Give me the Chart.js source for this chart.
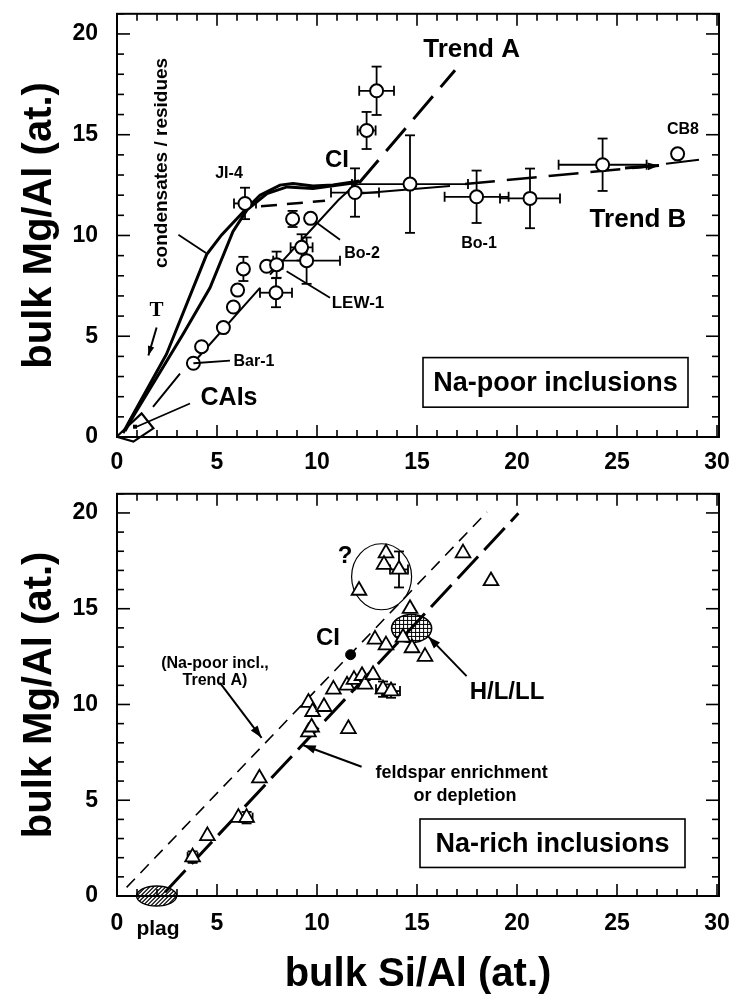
<!DOCTYPE html>
<html>
<head>
<meta charset="utf-8">
<script src="https://cdn.jsdelivr.net/npm/chart.js@4.4.0/dist/chart.umd.min.js"></script>
<style>
body { margin: 0; background: #fff; }
canvas { position: absolute; left: 0; }
#topChart { top: 0; }
#botChart { top: 480px; }
</style>
</head>
<body>
<canvas id="topChart" width="735" height="480"></canvas>
<canvas id="botChart" width="735" height="525"></canvas>
<script>
var FONT = "'Liberation Sans', Arial, Helvetica, sans-serif";

// ---------- top panel: Na-poor inclusions ----------
var poorX    = [3.82, 4.23, 5.32, 5.82, 6.03, 6.32, 6.4, 7.48, 7.98, 7.95, 8.78, 9.68, 9.23, 9.48, 11.9, 12.48, 12.98, 14.65, 17.98, 20.65, 24.28, 28.03];
var poorY    = [3.66, 4.48, 5.43, 6.45, 7.29, 8.34, 11.59, 8.47, 8.55, 7.16, 10.82, 10.85, 9.41, 8.75, 12.13, 15.21, 17.18, 12.55, 11.92, 11.84, 13.51, 14.05];
var poorXErr = [0, 0, 0, 0, 0, 0, 0.55, 0, 0.3, 0.8, 0, 0, 0.55, 1.67, 1.2, 0.45, 0.87, 2.9, 1.6, 1.5, 2.2, 0];
var poorYErr = [0, 0, 0, 0, 0, 0.6, 0.78, 0, 0.65, 0.72, 0.4, 0, 0.65, 1.15, 1.2, 0.92, 1.2, 2.42, 1.3, 1.48, 1.3, 0];

// condensates / residues curves
var condOuterX = [0.3, 0.65, 2.48, 4.48, 5.23, 6.32, 7.15, 8.15, 8.8, 9.8, 10.8, 11.8, 12.1];
var condOuterY = [0.2, 0.84, 4.12, 9.05, 10.03, 11.18, 12.0, 12.5, 12.58, 12.45, 12.5, 12.66, 12.7];
var condInnerX = [0.4, 0.8, 3.3, 4.65, 5.8, 6.5, 7.5, 8.5, 9.8, 11.8, 12.1];
var condInnerY = [0.3, 1.0, 5.1, 7.4, 10.2, 11.27, 12.08, 12.41, 12.33, 12.6, 12.7];

// thin line through the Na-poor points (null = gap)
var poorLineX = [1.8, 3.15, null, 3.8, 7.15, null, 7.65, 11.07, 12.0];
var poorLineY = [1.5, 3.14, null, 3.66, 7.4, null, 8.06, 11.76, 12.6];
var ji4LineX = [7.2, 10.4];
var ji4LineY = [11.45, 11.72];
var trendAX = [12.1, 16.9];
var trendAY = [12.6, 18.2];
var trendBSolidX = [12.15, 16.65];
var trendBSolidY = [12.08, 12.46];
var trendBX = [17.4, 27.1];
var trendBY = [12.55, 13.47];
var cb8LineX = [27.45, 29.1];
var cb8LineY = [13.56, 13.76];
var caiX = [-0.02, 1.23, 1.82, 0.82, -0.02];
var caiY = [0.01, 1.17, 0.43, -0.23, 0.01];

var topLabels = ['Trend A', 'Trend B', 'CB8', 'Bo-1', 'Bo-2', 'LEW-1', 'JI-4', 'CI', 'Bar-1', 'CAIs'];
var topLabelX = [17.73, 26.05, 28.3, 18.1, 12.25, 12.05, 5.6, 11.0, 6.85, 5.6];
var topLabelY = [19.19, 10.79, 15.27, 9.6, 9.11, 6.65, 13.05, 13.74, 3.74, 1.92];
var topLabelSize = [26, 26, 16, 16, 16, 17, 16, 24, 16, 25];

// ---------- bottom panel: Na-rich inclusions ----------
var richX    = [3.78, 4.52, 6.07, 6.48, 7.12, 9.57, 9.73, 9.57, 9.78, 10.35, 11.57, 10.82, 11.5, 11.85, 12.25, 12.4, 12.8, 13.3, 13.7, 12.9, 13.45, 14.3, 14.75, 15.4, 14.65, 17.3, 18.7, 12.1, 13.45, 13.35, 14.1];
var richY    = [2.03, 3.14, 4.09, 4.09, 6.15, 8.56, 8.81, 10.1, 9.62, 9.88, 8.73, 10.79, 11.0, 11.3, 11.5, 11.05, 11.55, 10.8, 10.7, 13.4, 13.1, 13.5, 12.95, 12.5, 15.0, 17.9, 16.45, 15.95, 17.9, 17.3, 17.05];
var richXErr = [0.25, 0, 0, 0.3, 0, 0, 0, 0, 0, 0, 0, 0, 0, 0, 0, 0, 0, 0.35, 0.45, 0, 0, 0, 0, 0, 0, 0, 0, 0, 0, 0, 0.45];
var richYErr = [0.3, 0, 0, 0.3, 0, 0, 0, 0, 0, 0, 0, 0, 0, 0, 0, 0, 0, 0.4, 0.35, 0, 0, 0, 0, 0, 0, 0, 0, 0, 0, 0, 0.94];
var ciX = [11.68];
var ciY = [12.6];
var naPoorTrendX = [0.48, 18.5];
var naPoorTrendY = [0.45, 20.05];
var feldsparX = [2.4, 20.07];
var feldsparY = [0.2, 19.98];

var botLabels = ['?', 'CI', '(Na-poor incl.,', 'Trend A)', 'feldspar enrichment', 'or depletion', 'H/L/LL', 'plag'];
var botLabelX = [11.4, 10.55, 4.9, 4.9, 17.23, 17.4, 19.5, 2.05];
var botLabelY = [17.75, 13.45, 12.16, 11.24, 6.41, 5.21, 10.62, -1.75];
var botLabelSize = [24, 24, 16, 16, 18, 18, 24, 21];

function pts(xs, ys) {
  return xs.map(function (x, i) { return { x: x, y: ys[i] }; });
}

function lineSet(xs, ys, w, dash) {
  return {
    type: 'line', data: pts(xs, ys), borderColor: '#000', borderWidth: w,
    borderDash: dash || [], pointRadius: 0, fill: false, spanGaps: false,
    tension: 0, order: 5
  };
}

function seg(ctx, x1, y1, x2, y2) {
  ctx.beginPath(); ctx.moveTo(x1, y1); ctx.lineTo(x2, y2); ctx.stroke();
}

function arrow(ctx, x1, y1, x2, y2, head, w) {
  ctx.lineWidth = w;
  seg(ctx, x1, y1, x2, y2);
  var a = Math.atan2(y2 - y1, x2 - x1);
  ctx.beginPath();
  ctx.moveTo(x2, y2);
  ctx.lineTo(x2 - head * Math.cos(a - 0.33), y2 - head * Math.sin(a - 0.33));
  ctx.lineTo(x2 - head * Math.cos(a + 0.33), y2 - head * Math.sin(a + 0.33));
  ctx.closePath(); ctx.fill();
}

function frameAndTicks(chart) {
  var ctx = chart.ctx, a = chart.chartArea, x = chart.scales.x, y = chart.scales.y;
  ctx.save();
  ctx.strokeStyle = '#000';
  ctx.lineWidth = 2;
  ctx.strokeRect(a.left, a.top, a.right - a.left, a.bottom - a.top);
  ctx.lineWidth = 1.6;
  for (var v = 0; v <= 30; v++) {
    var p = x.getPixelForValue(v), L = v % 5 === 0 ? 12 : 7;
    seg(ctx, p, a.bottom, p, a.bottom - L);
    seg(ctx, p, a.top, p, a.top + L);
  }
  for (var w = 0; w <= 21; w++) {
    var q = y.getPixelForValue(w), M = w % 5 === 0 ? 13 : 7;
    seg(ctx, a.left, q, a.left + M, q);
    seg(ctx, a.right, q, a.right - M, q);
  }
  ctx.restore();
}

function drawErrors(chart, xs, ys, xe, ye) {
  var ctx = chart.ctx, x = chart.scales.x, y = chart.scales.y, cap = 5;
  ctx.save();
  ctx.strokeStyle = '#000';
  ctx.lineWidth = 1.8;
  xs.forEach(function (xv, i) {
    var cx = x.getPixelForValue(xv), cy = y.getPixelForValue(ys[i]);
    if (xe[i]) {
      var l = x.getPixelForValue(xv - xe[i]), r = x.getPixelForValue(xv + xe[i]);
      seg(ctx, l, cy, r, cy); seg(ctx, l, cy - cap, l, cy + cap); seg(ctx, r, cy - cap, r, cy + cap);
    }
    if (ye[i]) {
      var t = y.getPixelForValue(ys[i] + ye[i]), b = y.getPixelForValue(ys[i] - ye[i]);
      seg(ctx, cx, t, cx, b); seg(ctx, cx - cap, t, cx + cap, t); seg(ctx, cx - cap, b, cx + cap, b);
    }
  });
  ctx.restore();
}

function drawLabels(chart, texts, xs, ys, sizes) {
  var ctx = chart.ctx, x = chart.scales.x, y = chart.scales.y;
  ctx.save();
  ctx.fillStyle = '#000';
  ctx.textAlign = 'center';
  ctx.textBaseline = 'middle';
  texts.forEach(function (t, i) {
    ctx.font = 'bold ' + sizes[i] + 'px ' + FONT;
    ctx.fillText(t, x.getPixelForValue(xs[i]), y.getPixelForValue(ys[i]));
  });
  ctx.restore();
}

function boxLabel(chart, text, x0, x1, y0, y1) {
  var ctx = chart.ctx, x = chart.scales.x, y = chart.scales.y;
  var l = x.getPixelForValue(x0), r = x.getPixelForValue(x1);
  var t = y.getPixelForValue(y1), b = y.getPixelForValue(y0);
  ctx.save();
  ctx.fillStyle = '#fff';
  ctx.fillRect(l, t, r - l, b - t);
  ctx.strokeStyle = '#000'; ctx.lineWidth = 1.6;
  ctx.strokeRect(l, t, r - l, b - t);
  ctx.fillStyle = '#000';
  ctx.font = 'bold 27px ' + FONT;
  ctx.textAlign = 'center'; ctx.textBaseline = 'middle';
  ctx.fillText(text, (l + r) / 2, (t + b) / 2 + 1);
  ctx.restore();
}

function yTitle(chart) {
  var ctx = chart.ctx, a = chart.chartArea;
  ctx.save();
  ctx.translate(40, (a.top + a.bottom) / 2);
  ctx.rotate(-Math.PI / 2);
  ctx.font = 'bold 40px ' + FONT;
  ctx.fillStyle = '#000';
  ctx.textAlign = 'center'; ctx.textBaseline = 'middle';
  ctx.fillText('bulk Mg/Al (at.)', 0, 0);
  ctx.restore();
}

// invisible tick marks are used only to space the tick labels from the frame
function scales(xHeight, xGap) {
  var hidden = { display: true, color: 'rgba(0,0,0,0)', drawOnChartArea: false, drawTicks: true };
  return {
    x: {
      type: 'linear', min: 0, max: 30.1,
      grid: Object.assign({ tickLength: xGap }, hidden), border: { display: false },
      ticks: { stepSize: 5, includeBounds: false, autoSkip: false, maxRotation: 0, padding: 0,
               color: '#000', font: { family: FONT, size: 23, weight: 'bold' } },
      afterFit: function (s) { s.height = xHeight; }
    },
    y: {
      type: 'linear', min: 0, max: 21,
      grid: Object.assign({ tickLength: 19 }, hidden), border: { display: false },
      ticks: { stepSize: 5, includeBounds: false, padding: 0,
               color: '#000', font: { family: FONT, size: 23, weight: 'bold' } },
      afterFit: function (s) { s.width = 117; }
    }
  };
}

// ---------- top chart ----------
new Chart(document.getElementById('topChart'), {
  type: 'scatter',
  data: {
    datasets: [
      { data: pts(poorX, poorY), pointStyle: 'circle', pointRadius: 6.5, pointBackgroundColor: '#fff',
        pointBorderColor: '#000', pointBorderWidth: 2, order: 0 },
      lineSet(condOuterX, condOuterY, 3),
      lineSet(condInnerX, condInnerY, 3),
      lineSet(poorLineX, poorLineY, 2),
      lineSet(ji4LineX, ji4LineY, 2.5, [16, 10]),
      lineSet(trendAX, trendAY, 3, [30, 12]),
      lineSet(trendBSolidX, trendBSolidY, 2),
      lineSet(trendBX, trendBY, 2.5, [30, 12]),
      lineSet(cb8LineX, cb8LineY, 2),
      Object.assign(lineSet(caiX, caiY, 2.2), { clip: false })
    ]
  },
  options: {
    responsive: false, animation: false,
    layout: { autoPadding: false, padding: { top: 10, right: 16, left: 0, bottom: 0 } },
    plugins: { legend: { display: false }, tooltip: { enabled: false } },
    scales: scales(43, 12)
  },
  plugins: [{
    id: 'topDecor',
    beforeDatasetsDraw: function (chart) {
      drawErrors(chart, poorX, poorY, poorXErr, poorYErr);
    },
    afterDatasetsDraw: function (chart) {
      var ctx = chart.ctx, X = chart.scales.x, Y = chart.scales.y;
      function P(x, y) { return [X.getPixelForValue(x), Y.getPixelForValue(y)]; }
      ctx.save();
      ctx.strokeStyle = '#000'; ctx.fillStyle = '#000'; ctx.lineWidth = 1.6;
      // leader lines
      [[3.82, 3.66, 5.65, 3.79], [9.9, 10.69, 11.15, 9.79], [8.48, 8.23, 10.65, 6.91],
       [3.07, 10.03, 4.45, 9.13], [0.98, 0.51, 3.65, 1.66]].forEach(function (s) {
        var p1 = P(s[0], s[1]), p2 = P(s[2], s[3]);
        ctx.lineWidth = 1.8;
        seg(ctx, p1[0], p1[1], p2[0], p2[1]);
      });
      var c = P(0.9, 0.51);
      ctx.fillRect(c[0] - 2, c[1] - 2, 4, 4);
      // T arrow
      var t1 = P(1.98, 5.43), t2 = P(1.57, 4.04);
      arrow(ctx, t1[0], t1[1], t2[0], t2[1], 10, 2);
      // Trend B arrow head
      var b1 = P(25.4, 13.35), b2 = P(27.1, 13.47);
      arrow(ctx, b1[0], b1[1], b2[0], b2[1], 12, 3);
      ctx.restore();
      drawLabels(chart, topLabels, topLabelX, topLabelY, topLabelSize);
      // T label (serif)
      var tp = P(1.98, 6.26);
      ctx.save();
      ctx.font = 'bold 21px "Liberation Serif", serif';
      ctx.textAlign = 'center'; ctx.textBaseline = 'middle';
      ctx.fillText('T', tp[0], tp[1]);
      // rotated condensates label
      var cp = P(2.25, 13.6);
      ctx.translate(cp[0], cp[1]);
      ctx.rotate(-Math.PI / 2);
      ctx.font = 'bold 19px ' + FONT;
      ctx.fillText('condensates / residues', 0, 0);
      ctx.restore();
      boxLabel(chart, 'Na-poor inclusions', 15.3, 28.55, 1.48, 3.94);
    },
    afterDraw: function (chart) {
      frameAndTicks(chart);
      yTitle(chart);
    }
  }]
});

// ---------- bottom chart ----------
new Chart(document.getElementById('botChart'), {
  type: 'scatter',
  data: {
    datasets: [
      { data: pts(richX, richY), pointStyle: 'triangle', pointRadius: 8.5, pointBackgroundColor: '#fff',
        pointBorderColor: '#000', pointBorderWidth: 1.8, order: 0 },
      { data: pts(ciX, ciY), pointStyle: 'circle', pointRadius: 5, pointBackgroundColor: '#000',
        pointBorderColor: '#000', order: 1 },
      lineSet(naPoorTrendX, naPoorTrendY, 1.6, [12, 8]),
      lineSet(feldsparX, feldsparY, 3, [30, 9])
    ]
  },
  options: {
    responsive: false, animation: false,
    layout: { autoPadding: false, padding: { top: 9, right: 16, left: 0, bottom: 0 } },
    plugins: { legend: { display: false }, tooltip: { enabled: false } },
    scales: scales(109, 14)
  },
  plugins: [{
    id: 'botDecor',
    beforeDatasetsDraw: function (chart) {
      var ctx = chart.ctx, X = chart.scales.x, Y = chart.scales.y;
      function P(x, y) { return [X.getPixelForValue(x), Y.getPixelForValue(y)]; }
      ctx.save();
      ctx.strokeStyle = '#000';
      // "?" circle
      var q = P(13.23, 16.67);
      ctx.lineWidth = 1.2;
      ctx.beginPath(); ctx.ellipse(q[0], q[1], 30, 33, 0, 0, 2 * Math.PI); ctx.stroke();
      // H/L/LL cross-hatched ellipse
      var h = P(14.73, 13.97);
      ctx.save();
      ctx.beginPath(); ctx.ellipse(h[0], h[1], 20, 14, 0, 0, 2 * Math.PI);
      ctx.fillStyle = '#fff'; ctx.fill(); ctx.clip();
      ctx.lineWidth = 1;
      for (var i = -24; i <= 24; i += 4) {
        seg(ctx, h[0] + i, h[1] - 16, h[0] + i, h[1] + 16);
        seg(ctx, h[0] - 22, h[1] + i, h[0] + 22, h[1] + i);
      }
      ctx.restore();
      ctx.lineWidth = 1.6;
      ctx.beginPath(); ctx.ellipse(h[0], h[1], 20, 14, 0, 0, 2 * Math.PI); ctx.stroke();
      // plag hatched ellipse
      var g = P(1.98, 0);
      ctx.save();
      ctx.beginPath(); ctx.ellipse(g[0], g[1], 20, 10, 0, 0, 2 * Math.PI);
      ctx.fillStyle = '#fff'; ctx.fill(); ctx.clip();
      ctx.lineWidth = 1.2;
      for (var k = -40; k <= 40; k += 4) {
        seg(ctx, g[0] + k - 12, g[1] + 12, g[0] + k + 12, g[1] - 12);
      }
      ctx.restore();
      ctx.lineWidth = 1.4;
      ctx.beginPath(); ctx.ellipse(g[0], g[1], 20, 10, 0, 0, 2 * Math.PI); ctx.stroke();
      ctx.restore();
      drawErrors(chart, richX, richY, richXErr, richYErr);
    },
    afterDatasetsDraw: function (chart) {
      var ctx = chart.ctx, X = chart.scales.x, Y = chart.scales.y;
      function P(x, y) { return [X.getPixelForValue(x), Y.getPixelForValue(y)]; }
      ctx.save();
      ctx.strokeStyle = '#000'; ctx.fillStyle = '#000';
      [[5.15, 11.13, 7.23, 8.26], [12.23, 6.75, 9.32, 7.87], [17.48, 11.48, 15.57, 13.54]].forEach(function (s) {
        var p1 = P(s[0], s[1]), p2 = P(s[2], s[3]);
        arrow(ctx, p1[0], p1[1], p2[0], p2[1], 13, 2);
      });
      ctx.restore();
      drawLabels(chart, botLabels, botLabelX, botLabelY, botLabelSize);
      boxLabel(chart, 'Na-rich inclusions', 15.15, 28.4, 1.49, 4.02);
    },
    afterDraw: function (chart) {
      frameAndTicks(chart);
      yTitle(chart);
      var ctx = chart.ctx, a = chart.chartArea;
      ctx.save();
      ctx.font = 'bold 40px ' + FONT;
      ctx.fillStyle = '#000';
      ctx.textAlign = 'center'; ctx.textBaseline = 'middle';
      ctx.fillText('bulk Si/Al (at.)', (a.left + a.right) / 2, 495);
      ctx.restore();
    }
  }]
});
</script>
</body>
</html>
